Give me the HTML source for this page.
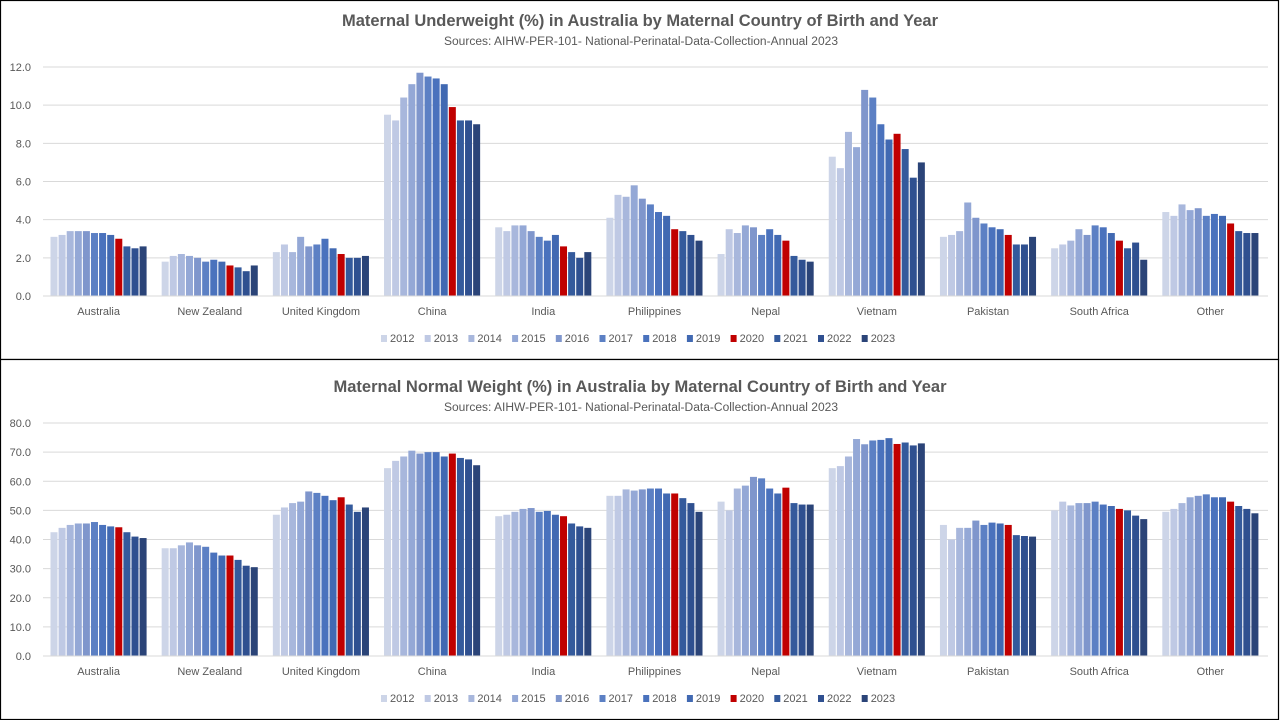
<!DOCTYPE html>
<html><head><meta charset="utf-8">
<style>
html,body{margin:0;padding:0;background:#fff;}
body{width:1280px;height:720px;overflow:hidden;font-family:"Liberation Sans",sans-serif;}
svg text{font-family:"Liberation Sans",sans-serif;}
</style></head>
<body>
<svg id="root" width="1280" height="720"></svg>
<script>
const categories = ["Australia","New Zealand","United Kingdom","China","India","Philippines","Nepal","Vietnam","Pakistan","South Africa","Other"];
const years = ["2012","2013","2014","2015","2016","2017","2018","2019","2020","2021","2022","2023"];
const yearColors = ["#cdd5e8","#bfc9e4","#a8b7dc","#94a8d6","#7f96cc","#5c80c4","#4a72bd","#4169b2","#c00000","#345a9c","#2f5090","#2b4478"];
const underweightTicks = ["0.0","2.0","4.0","6.0","8.0","10.0","12.0"];
const normalTicks = ["0.0","10.0","20.0","30.0","40.0","50.0","60.0","70.0","80.0"];
const underweightByCountry = [
 [3.1,3.2,3.4,3.4,3.4,3.3,3.3,3.2,3.0,2.6,2.5,2.6],
 [1.8,2.1,2.2,2.1,2.0,1.8,1.9,1.8,1.6,1.5,1.3,1.6],
 [2.3,2.7,2.3,3.1,2.6,2.7,3.0,2.5,2.2,2.0,2.0,2.1],
 [9.5,9.2,10.4,11.1,11.7,11.5,11.4,11.1,9.9,9.2,9.2,9.0],
 [3.6,3.4,3.7,3.7,3.4,3.1,2.9,3.2,2.6,2.3,2.0,2.3],
 [4.1,5.3,5.2,5.8,5.1,4.8,4.4,4.2,3.5,3.4,3.2,2.9],
 [2.2,3.5,3.3,3.7,3.6,3.2,3.5,3.2,2.9,2.1,1.9,1.8],
 [7.3,6.7,8.6,7.8,10.8,10.4,9.0,8.2,8.5,7.7,6.2,7.0],
 [3.1,3.2,3.4,4.9,4.1,3.8,3.6,3.5,3.2,2.7,2.7,3.1],
 [2.5,2.7,2.9,3.5,3.2,3.7,3.6,3.3,2.9,2.5,2.8,1.9],
 [4.4,4.2,4.8,4.5,4.6,4.2,4.3,4.2,3.8,3.4,3.3,3.3]
];
const normalByCountry = [
 [42.5,44,45,45.5,45.5,46,45,44.5,44.2,42.5,41,40.5],
 [37,37,38,39,38,37.5,35.5,34.5,34.5,33,31,30.5],
 [48.5,51,52.5,53,56.5,56,55,53.5,54.5,52,49.5,51],
 [64.5,67,68.5,70.5,69.5,70,70,68.5,69.5,68,67.5,65.5],
 [48,48.5,49.5,50.5,50.8,49.5,49.8,48.5,48,45.5,44.5,44],
 [55,55,57.2,56.8,57.2,57.5,57.5,55.8,55.8,54.2,52.5,49.5],
 [53,50,57.5,58.5,61.5,61,57.5,55.8,57.8,52.5,52,52],
 [64.5,65.2,68.5,74.5,72.7,74,74.2,74.8,72.8,73.3,72.3,73],
 [45,40,44,44,46.5,45,45.8,45.5,45,41.5,41.2,41],
 [50,53,51.7,52.5,52.5,53,52,51.5,50.5,50,48.2,47],
 [49.5,50.5,52.5,54.5,55,55.5,54.5,54.5,53,51.5,50.5,49]
];

const NS="http://www.w3.org/2000/svg";
const root=document.getElementById('root');
function mk(tag,attrs,parent){const e=document.createElementNS(NS,tag);for(const k in attrs)e.setAttribute(k,attrs[k]);(parent||root).appendChild(e);return e;}

function drawChart(cfg){
  const g=mk('g',{});
  
  
  const frame=mk('rect',{x:0.5,y:cfg.top0+0.5,width:1278,height:cfg.h-1,fill:'#fff',stroke:'#000','stroke-width':1.2},g);
  
  
  const t=mk('text',{x:640,y:cfg.titleY,'text-anchor':'middle','font-size':17,'font-weight':'bold',fill:'#595959',textLength:cfg.titleLen,lengthAdjust:'spacingAndGlyphs'},g);
  t.textContent=cfg.title;
  
  
  const s=mk('text',{x:641,y:cfg.titleY+19,'text-anchor':'middle','font-size':11.5,fill:'#595959',textLength:394,lengthAdjust:'spacingAndGlyphs'},g);
  s.textContent="Sources: AIHW-PER-101- National-Perinatal-Data-Collection-Annual 2023";
  
  
  const x0=45,x1=1268;
  const yScale=v=>cfg.y0-(v/cfg.max)*(cfg.y0-cfg.yTop);
  cfg.ticks.forEach(tk=>{
    const v=parseFloat(tk),y=yScale(v);
    const l=mk('line',{x1:x0-2,x2:x1,y1:y,y2:y,stroke:'#d9d9d9','stroke-width':1},g);
    
    
    const tx=mk('text',{x:31,y:y+4,'text-anchor':'end','font-size':11,fill:'#595959'},g);
    tx.textContent=tk;
    
    
  });
  const gw=(x1-x0)/categories.length;
  const step=8.1,bw=7;
  categories.forEach((c,ci)=>{
    const gx=x0+ci*gw+(gw-step*12)/2-1.5;
    cfg.data[ci].forEach((v,yi)=>{
      const y=yScale(v);
      const r=mk('rect',{x:gx+yi*step,y:y,width:bw,height:cfg.y0-y,fill:yearColors[yi]},g);
      
      
    });
    const lb=mk('text',{x:x0+ci*gw+gw/2-2,y:cfg.y0+19,'text-anchor':'middle','font-size':11,fill:'#595959'},g);
    lb.textContent=c;
    
    
  });
  const ax=mk('line',{x1:x0-2,x2:x1,y1:cfg.y0,y2:cfg.y0,stroke:'#d9d9d9','stroke-width':1},g);
  
  
  const lx0=381,lstep=43.7;
  years.forEach((yr,i)=>{
    const lg=mk('g',{},g);
    
    
    mk('rect',{x:lx0+i*lstep,y:cfg.legendY-7,width:6,height:7,fill:yearColors[i]},lg);
    const lt=mk('text',{x:lx0+i*lstep+9,y:cfg.legendY,'font-size':11,fill:'#595959'},lg);
    lt.textContent=yr;
  });
}
drawChart({name:'underweight-chart',top0:0,h:360,titleY:26,titleLen:596,title:"Maternal Underweight (%) in Australia by Maternal Country of Birth and Year",y0:296,yTop:67,max:12,ticks:underweightTicks,data:underweightByCountry,legendY:342});
drawChart({name:'normal-weight-chart',top0:359,h:361,titleY:392,titleLen:613,title:"Maternal Normal Weight (%) in Australia by Maternal Country of Birth and Year",y0:656,yTop:423,max:80,ticks:normalTicks,data:normalByCountry,legendY:702});
</script>
</body></html>
